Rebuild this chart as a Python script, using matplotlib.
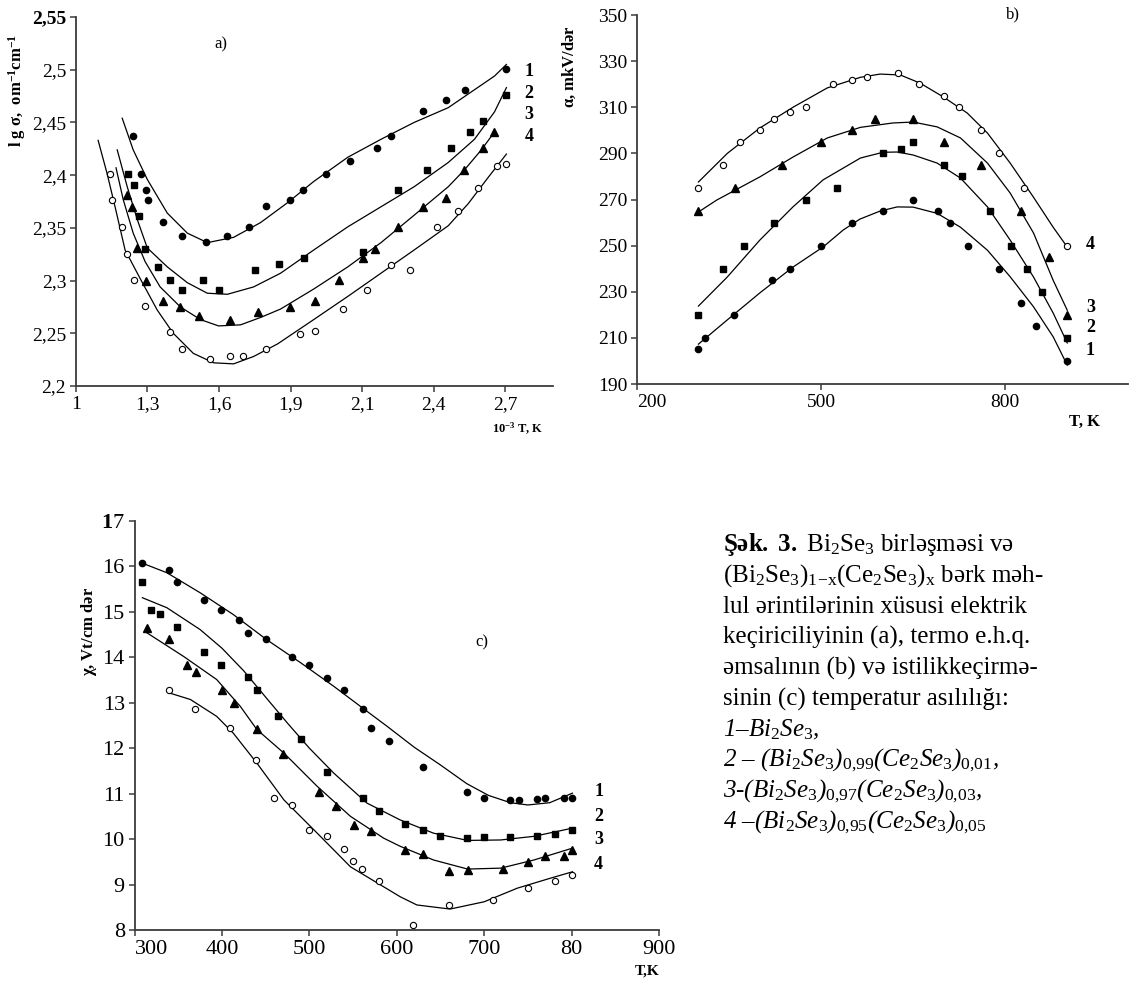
import numpy as np
import matplotlib
matplotlib.use("Agg")
from matplotlib import pyplot as plt

plt.rcParams['font.family'] = ['Liberation Serif', 'DejaVu Serif']
plt.rcParams['mathtext.fontset'] = 'custom'
plt.rcParams['mathtext.rm'] = 'Liberation Serif'
plt.rcParams['mathtext.it'] = 'Liberation Serif:italic'
plt.rcParams['mathtext.bf'] = 'Liberation Serif:bold'

# ---- panel a) : lg sigma vs 10^-3 T (x is the tick position, labels are uneven)
a_ticks = [1.0, 1.3, 1.6, 1.9, 2.2, 2.5, 2.8]
a_ticklabels = ['1', '1,3', '1,6', '1,9', '2,1', '2,4', '2,7']
a_yticks = [2.2, 2.25, 2.3, 2.35, 2.4, 2.45, 2.5, 2.55]
a_yticklabels = ['2,2', '2,25', '2,3', '2,35', '2,4', '2,45', '2,5', '2,55']

a1_x = [1.240, 1.274, 1.295, 1.303, 1.366, 1.446, 1.547, 1.635, 1.724, 1.795, 1.896, 1.951, 2.048, 2.149, 2.262, 2.321, 2.456, 2.553, 2.633, 2.805]
a1_y = [2.437, 2.401, 2.386, 2.376, 2.356, 2.342, 2.337, 2.342, 2.351, 2.371, 2.376, 2.386, 2.401, 2.413, 2.426, 2.437, 2.461, 2.471, 2.481, 2.501]
a2_x = [1.219, 1.244, 1.265, 1.290, 1.345, 1.396, 1.446, 1.534, 1.598, 1.749, 1.850, 1.955, 2.203, 2.351, 2.473, 2.574, 2.654, 2.708, 2.805]
a2_y = [2.401, 2.391, 2.361, 2.330, 2.313, 2.301, 2.291, 2.301, 2.291, 2.310, 2.316, 2.321, 2.327, 2.386, 2.405, 2.426, 2.441, 2.451, 2.476]
a3_x = [1.215, 1.236, 1.257, 1.295, 1.366, 1.438, 1.518, 1.648, 1.762, 1.896, 2.002, 2.103, 2.203, 2.254, 2.351, 2.456, 2.553, 2.629, 2.708, 2.755]
a3_y = [2.381, 2.370, 2.331, 2.300, 2.281, 2.275, 2.266, 2.263, 2.270, 2.275, 2.281, 2.301, 2.321, 2.330, 2.351, 2.370, 2.378, 2.405, 2.426, 2.441]
a4_x = [1.143, 1.151, 1.194, 1.215, 1.244, 1.290, 1.396, 1.446, 1.564, 1.648, 1.699, 1.795, 1.938, 2.002, 2.119, 2.220, 2.321, 2.401, 2.515, 2.603, 2.687, 2.767, 2.805]
a4_y = [2.401, 2.376, 2.351, 2.325, 2.301, 2.276, 2.251, 2.235, 2.226, 2.228, 2.228, 2.235, 2.249, 2.252, 2.273, 2.291, 2.315, 2.310, 2.351, 2.366, 2.388, 2.409, 2.411]

# fitted curves as drawn in the figure
a1_fx = [1.194, 1.240, 1.299, 1.383, 1.467, 1.551, 1.661, 1.774, 1.888, 1.997, 2.140, 2.279, 2.418, 2.561, 2.671, 2.755, 2.805]
a1_fy = [2.454, 2.424, 2.396, 2.364, 2.345, 2.336, 2.341, 2.355, 2.374, 2.394, 2.417, 2.434, 2.450, 2.464, 2.481, 2.494, 2.505]
a2_fx = [1.173, 1.215, 1.257, 1.299, 1.383, 1.467, 1.551, 1.635, 1.745, 1.858, 1.997, 2.140, 2.279, 2.418, 2.561, 2.671, 2.755, 2.805]
a2_fy = [2.424, 2.389, 2.358, 2.331, 2.313, 2.298, 2.288, 2.287, 2.294, 2.307, 2.329, 2.351, 2.370, 2.389, 2.412, 2.434, 2.460, 2.483]
a3_fx = [1.168, 1.198, 1.240, 1.290, 1.353, 1.438, 1.522, 1.598, 1.690, 1.774, 1.858, 1.997, 2.140, 2.279, 2.418, 2.561, 2.629, 2.700, 2.755]
a3_fy = [2.407, 2.377, 2.345, 2.318, 2.294, 2.275, 2.263, 2.257, 2.258, 2.265, 2.273, 2.292, 2.313, 2.336, 2.362, 2.389, 2.405, 2.424, 2.441]
a4_fx = [1.093, 1.130, 1.164, 1.206, 1.269, 1.341, 1.408, 1.492, 1.577, 1.661, 1.745, 1.846, 1.997, 2.140, 2.279, 2.418, 2.561, 2.645, 2.729, 2.805]
a4_fy = [2.433, 2.402, 2.370, 2.329, 2.302, 2.272, 2.250, 2.231, 2.222, 2.221, 2.228, 2.240, 2.263, 2.285, 2.307, 2.329, 2.352, 2.373, 2.398, 2.420]

# ---- panel b) : alpha vs T
b1_T = [300, 310, 358, 420, 450, 500, 550, 600, 650, 690, 710, 740, 790, 825, 850, 900]
b1_a = [205, 210, 220, 235, 240, 250, 260, 265, 270, 265, 260, 250, 240, 225, 215, 200]
b2_T = [300, 340, 375, 423, 475, 525, 600, 630, 650, 700, 730, 775, 810, 835, 860, 900]
b2_a = [220, 240, 250, 260, 270, 275, 290, 292, 295, 285, 280, 265, 250, 240, 230, 210]
b3_T = [300, 360, 436, 500, 550, 588, 650, 700, 760, 825, 872, 900]
b3_a = [265, 275, 285, 295, 300, 305, 305, 295, 285, 265, 245, 220]
b4_T = [300, 340, 368, 400, 423, 450, 475, 520, 550, 575, 625, 660, 700, 725, 760, 790, 830, 900]
b4_a = [275, 285, 295, 300, 305, 308, 310, 320, 322, 323, 325, 320, 315, 310, 300, 290, 275, 250]

b1_fT = [300, 347, 400, 454, 503, 536, 563, 596, 624, 650, 689, 727, 771, 808, 846, 878, 901]
b1_fa = [207.3, 217.8, 229.5, 240.7, 249.4, 256.8, 261.5, 265.0, 266.8, 266.7, 264.0, 258.0, 248.0, 236.5, 223.5, 210.5, 198.2]
b2_fT = [300, 347, 400, 454, 503, 564, 601, 624, 650, 689, 727, 771, 808, 846, 878, 901]
b2_fa = [223.8, 236.4, 252.4, 266.8, 278.5, 288.0, 290.5, 290.6, 289.3, 285.8, 279.3, 266.8, 252.4, 236.4, 220.8, 207.8]
b3_fT = [300, 330, 400, 454, 510, 564, 617, 650, 689, 727, 771, 808, 846, 878, 901]
b3_fa = [264.6, 269.8, 279.8, 288.4, 296.7, 301.3, 303.2, 303.6, 301.5, 296.7, 285.8, 272.8, 255.5, 235.0, 222.0]
b4_fT = [300, 347, 400, 454, 510, 564, 596, 629, 661, 699, 738, 771, 808, 846, 878, 901]
b4_fa = [277.6, 290.0, 301.0, 310.0, 318.4, 323.0, 324.4, 324.0, 320.5, 314.5, 307.5, 298.8, 285.8, 271.0, 258.0, 249.4]

# ---- panel c) : chi vs T
c_xticks = [300, 400, 500, 600, 700, 800, 900]
c_xticklabels = ['300', '400', '500', '600', '700', '80', '900']  # "80" is how it is printed
c_yticklabels = ['8', '9', '10', '11', '12', '13', '14', '15', '16', r'$\mathbf{1}$7']

c1_T = [309, 339, 349, 379, 399, 420, 430, 450, 480, 500, 520, 540, 561, 571, 591, 630, 680, 700, 730, 740, 761, 770, 791, 800]
c1_k = [16.07, 15.93, 15.65, 15.25, 15.04, 14.82, 14.53, 14.40, 14.00, 13.84, 13.55, 13.28, 12.86, 12.44, 12.15, 11.59, 11.04, 10.91, 10.87, 10.87, 10.88, 10.90, 10.90, 10.90]
c2_T = [309, 319, 329, 349, 379, 399, 430, 440, 464, 490, 520, 561, 580, 610, 630, 650, 680, 700, 730, 760, 781, 800]
c2_k = [15.65, 15.04, 14.96, 14.66, 14.11, 13.84, 13.56, 13.28, 12.71, 12.20, 11.47, 10.90, 10.62, 10.33, 10.20, 10.06, 10.02, 10.04, 10.04, 10.06, 10.12, 10.20]
c3_T = [314, 340, 360, 370, 400, 414, 440, 470, 511, 531, 551, 571, 610, 630, 660, 681, 721, 750, 770, 791, 800]
c3_k = [14.65, 14.40, 13.83, 13.68, 13.27, 12.99, 12.43, 11.87, 11.03, 10.73, 10.31, 10.18, 9.76, 9.67, 9.30, 9.31, 9.34, 9.49, 9.62, 9.62, 9.76]
c4_T = [340, 369, 409, 439, 460, 480, 500, 520, 540, 550, 560, 580, 619, 660, 710, 750, 781, 800]
c4_k = [13.28, 12.86, 12.44, 11.73, 10.90, 10.74, 10.20, 10.06, 9.78, 9.51, 9.35, 9.08, 8.11, 8.54, 8.66, 8.93, 9.08, 9.22]

c1_fT = [309, 337, 375, 413, 451, 490, 528, 566, 589, 620, 650, 680, 705, 730, 750, 775, 801]
c1_fk = [16.07, 15.86, 15.42, 14.94, 14.39, 13.88, 13.36, 12.81, 12.48, 12.02, 11.63, 11.22, 10.96, 10.80, 10.75, 10.80, 11.01]
c2_fT = [309, 337, 375, 400, 425, 451, 475, 500, 528, 566, 604, 642, 681, 719, 757, 801]
c2_fk = [15.31, 15.09, 14.61, 14.20, 13.70, 13.10, 12.55, 12.00, 11.45, 10.79, 10.42, 10.13, 9.97, 9.98, 10.06, 10.24]
c3_fT = [314, 356, 394, 421, 440, 471, 509, 547, 585, 604, 642, 681, 719, 757, 801]
c3_fk = [14.54, 14.02, 13.51, 12.92, 12.41, 11.89, 11.16, 10.50, 10.02, 9.84, 9.54, 9.34, 9.36, 9.54, 9.80]
c4_fT = [339, 364, 394, 413, 440, 471, 509, 547, 585, 604, 623, 661, 700, 738, 776, 801]
c4_fk = [13.22, 13.07, 12.70, 12.33, 11.67, 10.86, 10.13, 9.39, 8.95, 8.73, 8.55, 8.46, 8.62, 8.92, 9.14, 9.28]

curve_names = ['1', '2', '3', '4']

# marker styles for the 4 compositions: filled circle, square, triangle, open circle
MARKERS = [dict(marker='o', ms=4.5, mfc='black', mec='black'),
           dict(marker='s', ms=5, mfc='black', mec='black'),
           dict(marker='^', ms=5.5, mfc='black', mec='black'),
           dict(marker='o', ms=4.5, mfc='white', mec='black', mew=0.8)]
AXCOL = '#3c3c3c'


def styleAxis(ax, size):
    """Only left and bottom axis lines, short outward ticks"""
    for s in ['top', 'right']:
        ax.spines[s].set_visible(False)
    for s in ['left', 'bottom']:
        ax.spines[s].set_color(AXCOL)
        ax.spines[s].set_linewidth(1.3)
    ax.tick_params(direction='out', length=4, width=1.1, color=AXCOL, labelsize=size, pad=3)


def drawSeries(ax, pts, fits):
    for i in range(4):
        ax.plot(fits[i][0], fits[i][1], color='black', lw=0.9, zorder=2)
        ax.plot(pts[i][0], pts[i][1], ls='none', zorder=3, **MARKERS[i])


fig = plt.figure(figsize=(11.37, 9.89), dpi=100)

#Panel a
axA = fig.add_axes([0.0668, 0.6097, 0.4195, 0.3731])
drawSeries(axA, [(a1_x, a1_y), (a2_x, a2_y), (a3_x, a3_y), (a4_x, a4_y)],
           [(a1_fx, a1_fy), (a2_fx, a2_fy), (a3_fx, a3_fy), (a4_fx, a4_fy)])
axA.set_xlim(1.0, 3.0)
axA.set_ylim(2.2, 2.55)
axA.set_xticks(a_ticks)
axA.set_xticklabels(a_ticklabels)
axA.set_yticks(a_yticks)
axA.set_yticklabels(a_yticklabels)
styleAxis(axA, 14)
axA.get_yticklabels()[-1].set_fontweight('bold')
axA.set_ylabel(r"l g $\mathbf{\sigma}$,  om$^{\mathbf{-1}}$cm$^{\mathbf{-1}}$", fontsize=12, fontweight='bold')
axA.yaxis.set_label_coords(-0.10, 0.80)
axA.text(0.927, -0.117, r"10$^{\mathbf{-3}}$ T, K", transform=axA.transAxes, fontsize=9,
         fontweight='bold', ha='center', va='center')
axA.text(1.606, 2.524, "a)", fontsize=12, ha='center', va='center')
for name, yy in zip(curve_names, [2.4985, 2.4776, 2.4576, 2.4367]):
    axA.text(2.90, yy, name, fontsize=13, fontweight='bold', ha='center', va='center', clip_on=False)

#Panel b
axB = fig.add_axes([0.5603, 0.6117, 0.4318, 0.3731])
drawSeries(axB, [(b1_T, b1_a), (b2_T, b2_a), (b3_T, b3_a), (b4_T, b4_a)],
           [(b1_fT, b1_fa), (b2_fT, b2_fa), (b3_fT, b3_fa), (b4_fT, b4_fa)])
axB.set_xlim(200, 1000)
axB.set_ylim(190, 350)
axB.set_xticks([200, 500, 800])
axB.set_yticks(np.arange(190, 351, 20))
styleAxis(axB, 14)
axB.get_xticklabels()[0].set_horizontalalignment('left')
axB.set_ylabel(r"$\mathbf{\alpha}$, mkV/dər", fontsize=12, fontweight='bold')
axB.yaxis.set_label_coords(-0.12, 0.86)
axB.text(0.912, -0.103, "T, K", transform=axB.transAxes, fontsize=12, fontweight='bold',
         ha='center', va='center')
axB.text(813, 350.4, "b)", fontsize=12, ha='center', va='center', clip_on=False)
for name, yy in zip(curve_names, [204.7, 214.3, 223.4, 250.3]):
    axB.text(938.6, yy, name, fontsize=13, fontweight='bold', ha='center', va='center')

#Panel c
axC = fig.add_axes([0.1183, 0.0597, 0.4613, 0.4136])
drawSeries(axC, [(c1_T, c1_k), (c2_T, c2_k), (c3_T, c3_k), (c4_T, c4_k)],
           [(c1_fT, c1_fk), (c2_fT, c2_fk), (c3_fT, c3_fk), (c4_fT, c4_fk)])
axC.set_xlim(300, 900)
axC.set_ylim(8, 17)
axC.set_xticks(c_xticks)
axC.set_xticklabels(c_xticklabels)
axC.set_yticks(range(8, 18))
axC.set_yticklabels(c_yticklabels)
styleAxis(axC, 16)
axC.get_xticklabels()[0].set_horizontalalignment('left')
axC.set_ylabel(r"$\mathbf{\chi}$, Vt/cm dər", fontsize=12, fontweight='bold')
axC.yaxis.set_label_coords(-0.068, 0.73)
axC.text(0.977, -0.100, "T,K", transform=axC.transAxes, fontsize=11, fontweight='bold',
         ha='center', va='center')
axC.text(697, 14.32, "c)", fontsize=12, ha='center', va='center')
for name, yy in zip(curve_names, [11.04, 10.49, 9.98, 9.43]):
    axC.text(831, yy, name, fontsize=13, fontweight='bold', ha='center', va='center', clip_on=False)

#Caption on the right of panel c
caption = [
    (r"$\mathbf{Şək.\ 3.}$ Bi$_2$Se$_3$ birləşməsi və", 'normal'),
    (r"(Bi$_2$Se$_3$)$_{1}$$_{\mathrm{-x}}$(Ce$_2$Se$_3$)$_\mathrm{x}$ bərk məh-", 'normal'),
    ("lul ərintilərinin xüsusi elektrik", 'normal'),
    ("keçiriciliyinin (a), termo e.h.q.", 'normal'),
    ("əmsalının (b) və istilikkeçirmə-", 'normal'),
    ("sinin (c) temperatur asılılığı:", 'normal'),
    (r"1–Bi$_{\mathit{2}}$Se$_{\mathit{3}}$,", 'italic'),
    (r"2 – (Bi$_{\mathit{2}}$Se$_{\mathit{3}}$)$_{\mathit{0{,}99}}$(Ce$_{\mathit{2}}$Se$_{\mathit{3}}$)$_{\mathit{0{,}01}}$,", 'italic'),
    (r"3-(Bi$_{\mathit{2}}$Se$_{\mathit{3}}$)$_{\mathit{0{,}97}}$(Ce$_{\mathit{2}}$Se$_{\mathit{3}}$)$_{\mathit{0{,}03}}$,", 'italic'),
    (r"4 –(Bi$_{\mathit{2}}$Se$_{\mathit{3}}$)$_{\mathit{0{,}95}}$(Ce$_{\mathit{2}}$Se$_{\mathit{3}}$)$_{\mathit{0{,}05}}$", 'italic'),
]
for i, (line, style) in enumerate(caption):
    ypix = 545 + i * 30.8
    fig.text(723 / 1137, 1 - ypix / 989, line, fontsize=18, fontstyle=style, ha='left', va='center')

plt.savefig("out.png", dpi=100)
plt.close(fig)
